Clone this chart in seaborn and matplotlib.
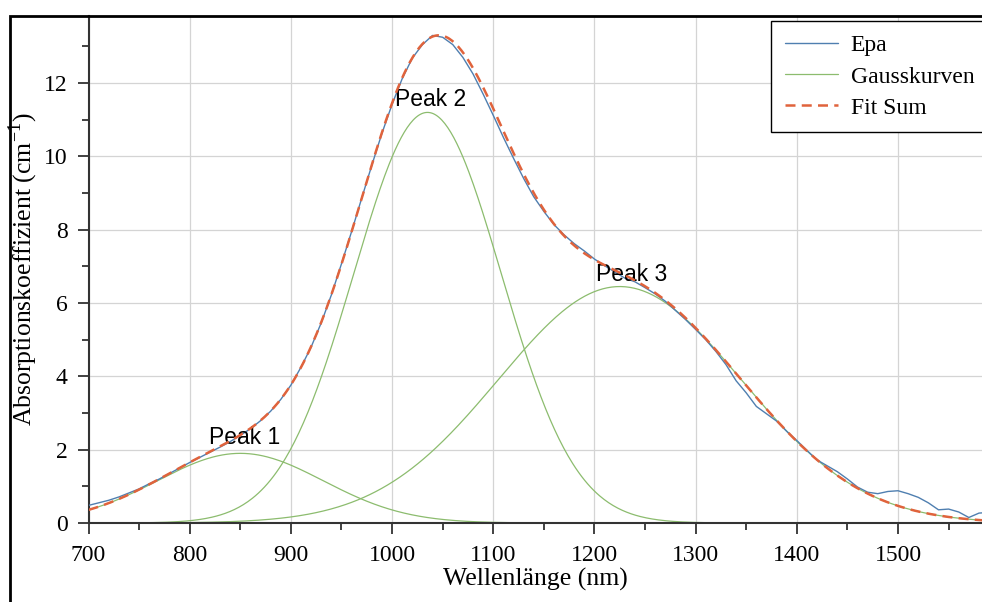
import numpy as np
import pandas as pd
import seaborn as sns
import matplotlib.pyplot as plt
from matplotlib.patches import Rectangle

epa_x = [700, 710, 720, 730, 740, 750, 760, 770, 780, 790,
         800, 810, 820, 830, 840, 850, 860, 870, 880, 890,
         900, 910, 920, 930, 940, 950, 960, 970, 980, 990,
         1000, 1010, 1020, 1030, 1040, 1050, 1060, 1070, 1080, 1090,
         1100, 1110, 1120, 1130, 1140, 1150, 1160, 1170, 1180, 1190,
         1200, 1210, 1220, 1230, 1240, 1250, 1260, 1270, 1280, 1290,
         1300, 1310, 1320, 1330, 1340, 1350, 1360, 1370, 1380, 1390,
         1400, 1410, 1420, 1430, 1440, 1450, 1460, 1470, 1480, 1490,
         1500, 1510, 1520, 1530, 1540, 1550, 1560, 1570, 1580, 1585]
epa_y = [0.48, 0.55, 0.62, 0.71, 0.82, 0.93, 1.07, 1.20, 1.35, 1.50,
         1.65, 1.79, 1.93, 2.07, 2.22, 2.39, 2.57, 2.79, 3.05, 3.37,
         3.76, 4.25, 4.80, 5.46, 6.22, 7.07, 7.95, 8.86, 9.76, 10.63,
         11.42, 12.12, 12.68, 13.05, 13.30, 13.25, 13.05, 12.70, 12.25, 11.70,
         11.12, 10.52, 9.95, 9.40, 8.90, 8.50, 8.14, 7.86, 7.62, 7.42,
         7.20, 7.02, 6.85, 6.68, 6.58, 6.42, 6.25, 6.05, 5.80, 5.55,
         5.28, 5.00, 4.68, 4.32, 3.88, 3.55, 3.18, 2.98, 2.78, 2.50,
         2.25, 1.98, 1.72, 1.56, 1.40, 1.20, 0.98, 0.84, 0.80, 0.86,
         0.88, 0.80, 0.70, 0.55, 0.36, 0.38, 0.30, 0.15, 0.27, 0.28]

# gauss fit parameters (center nm, amplitude, sigma nm)
peak_names = ['Peak 1', 'Peak 2', 'Peak 3']
peak_center = [850, 1035, 1225]
peak_amp = [1.9, 11.2, 6.45]
peak_sigma = [82, 73, 120]
label_x = [854, 1038, 1237]
label_y = [2.32, 11.54, 6.77]

sns.set_style("white")
plt.rcParams['font.family'] = ['Liberation Serif', 'DejaVu Serif']
plt.rcParams['mathtext.fontset'] = 'custom'
plt.rcParams['mathtext.rm'] = 'Liberation Serif'
plt.rcParams['text.color'] = 'black'
plt.rcParams['axes.labelcolor'] = 'black'
plt.rcParams['xtick.labelcolor'] = 'black'
plt.rcParams['ytick.labelcolor'] = 'black'

fig = plt.figure(figsize=(9.82, 6.02), dpi=100)
ax = fig.add_axes([88.5 / 982, 1 - 523 / 602, 1 - 88.5 / 982, (523 - 16) / 602])

wl = np.linspace(700, 1590, 600)
fit_sum = np.zeros_like(wl)
for i in range(3):
    g = peak_amp[i] * np.exp(-(wl - peak_center[i]) ** 2 / (2 * peak_sigma[i] ** 2))
    fit_sum += g
    sns.lineplot(x=wl, y=g, ax=ax, color='#8cbc6e', lw=0.9,
                 label='Gausskurven' if i == 0 else None)

sns.lineplot(x=epa_x, y=epa_y, ax=ax, color='#4f7fb0', lw=1.0, label='Epa', zorder=3)
sns.lineplot(x=wl, y=fit_sum, ax=ax, color='#e0633c', lw=1.8, ls=(0, (4, 2.5)),
             label='Fit Sum', zorder=4)

for name, lx, ly in zip(peak_names, label_x, label_y):
    ax.text(lx, ly, name, ha='center', va='center', fontsize=16.5, color='black',
            family=['Liberation Sans', 'DejaVu Sans'])

ax.set_xlim(700, 1583)
ax.set_ylim(0, 13.83)
ax.set_xticks(range(700, 1501, 100))
ax.set_xticks(range(750, 1583, 100), minor=True)
ax.set_yticks(range(0, 13, 2))
ax.set_yticks(range(1, 14, 2), minor=True)
ax.grid(True, which='major', color='#d4d4d4', lw=0.9)
ax.tick_params(which='major', direction='out', length=8, width=1.3, labelsize=17,
               color='#333333', bottom=True, left=True)
ax.tick_params(which='minor', direction='out', length=5, width=1.3,
               color='#333333', bottom=True, left=True)
ax.tick_params(axis='x', which='major', pad=8)
ax.tick_params(axis='y', which='major', pad=7)
for s in ['top', 'right']:
    ax.spines[s].set_visible(False)
for s in ['left', 'bottom']:
    ax.spines[s].set_color('#333333')
    ax.spines[s].set_linewidth(1.5)

ax.set_xlabel('Wellenlänge (nm)', fontsize=18.5, labelpad=1)
ax.set_ylabel(r'Absorptionskoeffizient (cm$^{\mathrm{-1}}$)', fontsize=18.5, labelpad=3)

h, l = ax.get_legend_handles_labels()
order = [l.index('Epa'), l.index('Gausskurven'), l.index('Fit Sum')]
leg = ax.legend([h[i] for i in order], [l[i] for i in order], loc='upper right',
                bbox_to_anchor=(1.0067, 0.99), borderaxespad=0, fontsize=17,
                handlelength=2.25, handletextpad=0.55, labelspacing=0.41,
                borderpad=0.58, fancybox=False, framealpha=1, edgecolor='black')
leg.get_frame().set_linewidth(1.0)

fig.patches.append(Rectangle((10 / 982, -0.1), 1.2, 0.1 + (1 - 16 / 602),
                             transform=fig.transFigure, fill=False, lw=2,
                             edgecolor='black', clip_on=False))

fig.savefig('out.png', dpi=100)
